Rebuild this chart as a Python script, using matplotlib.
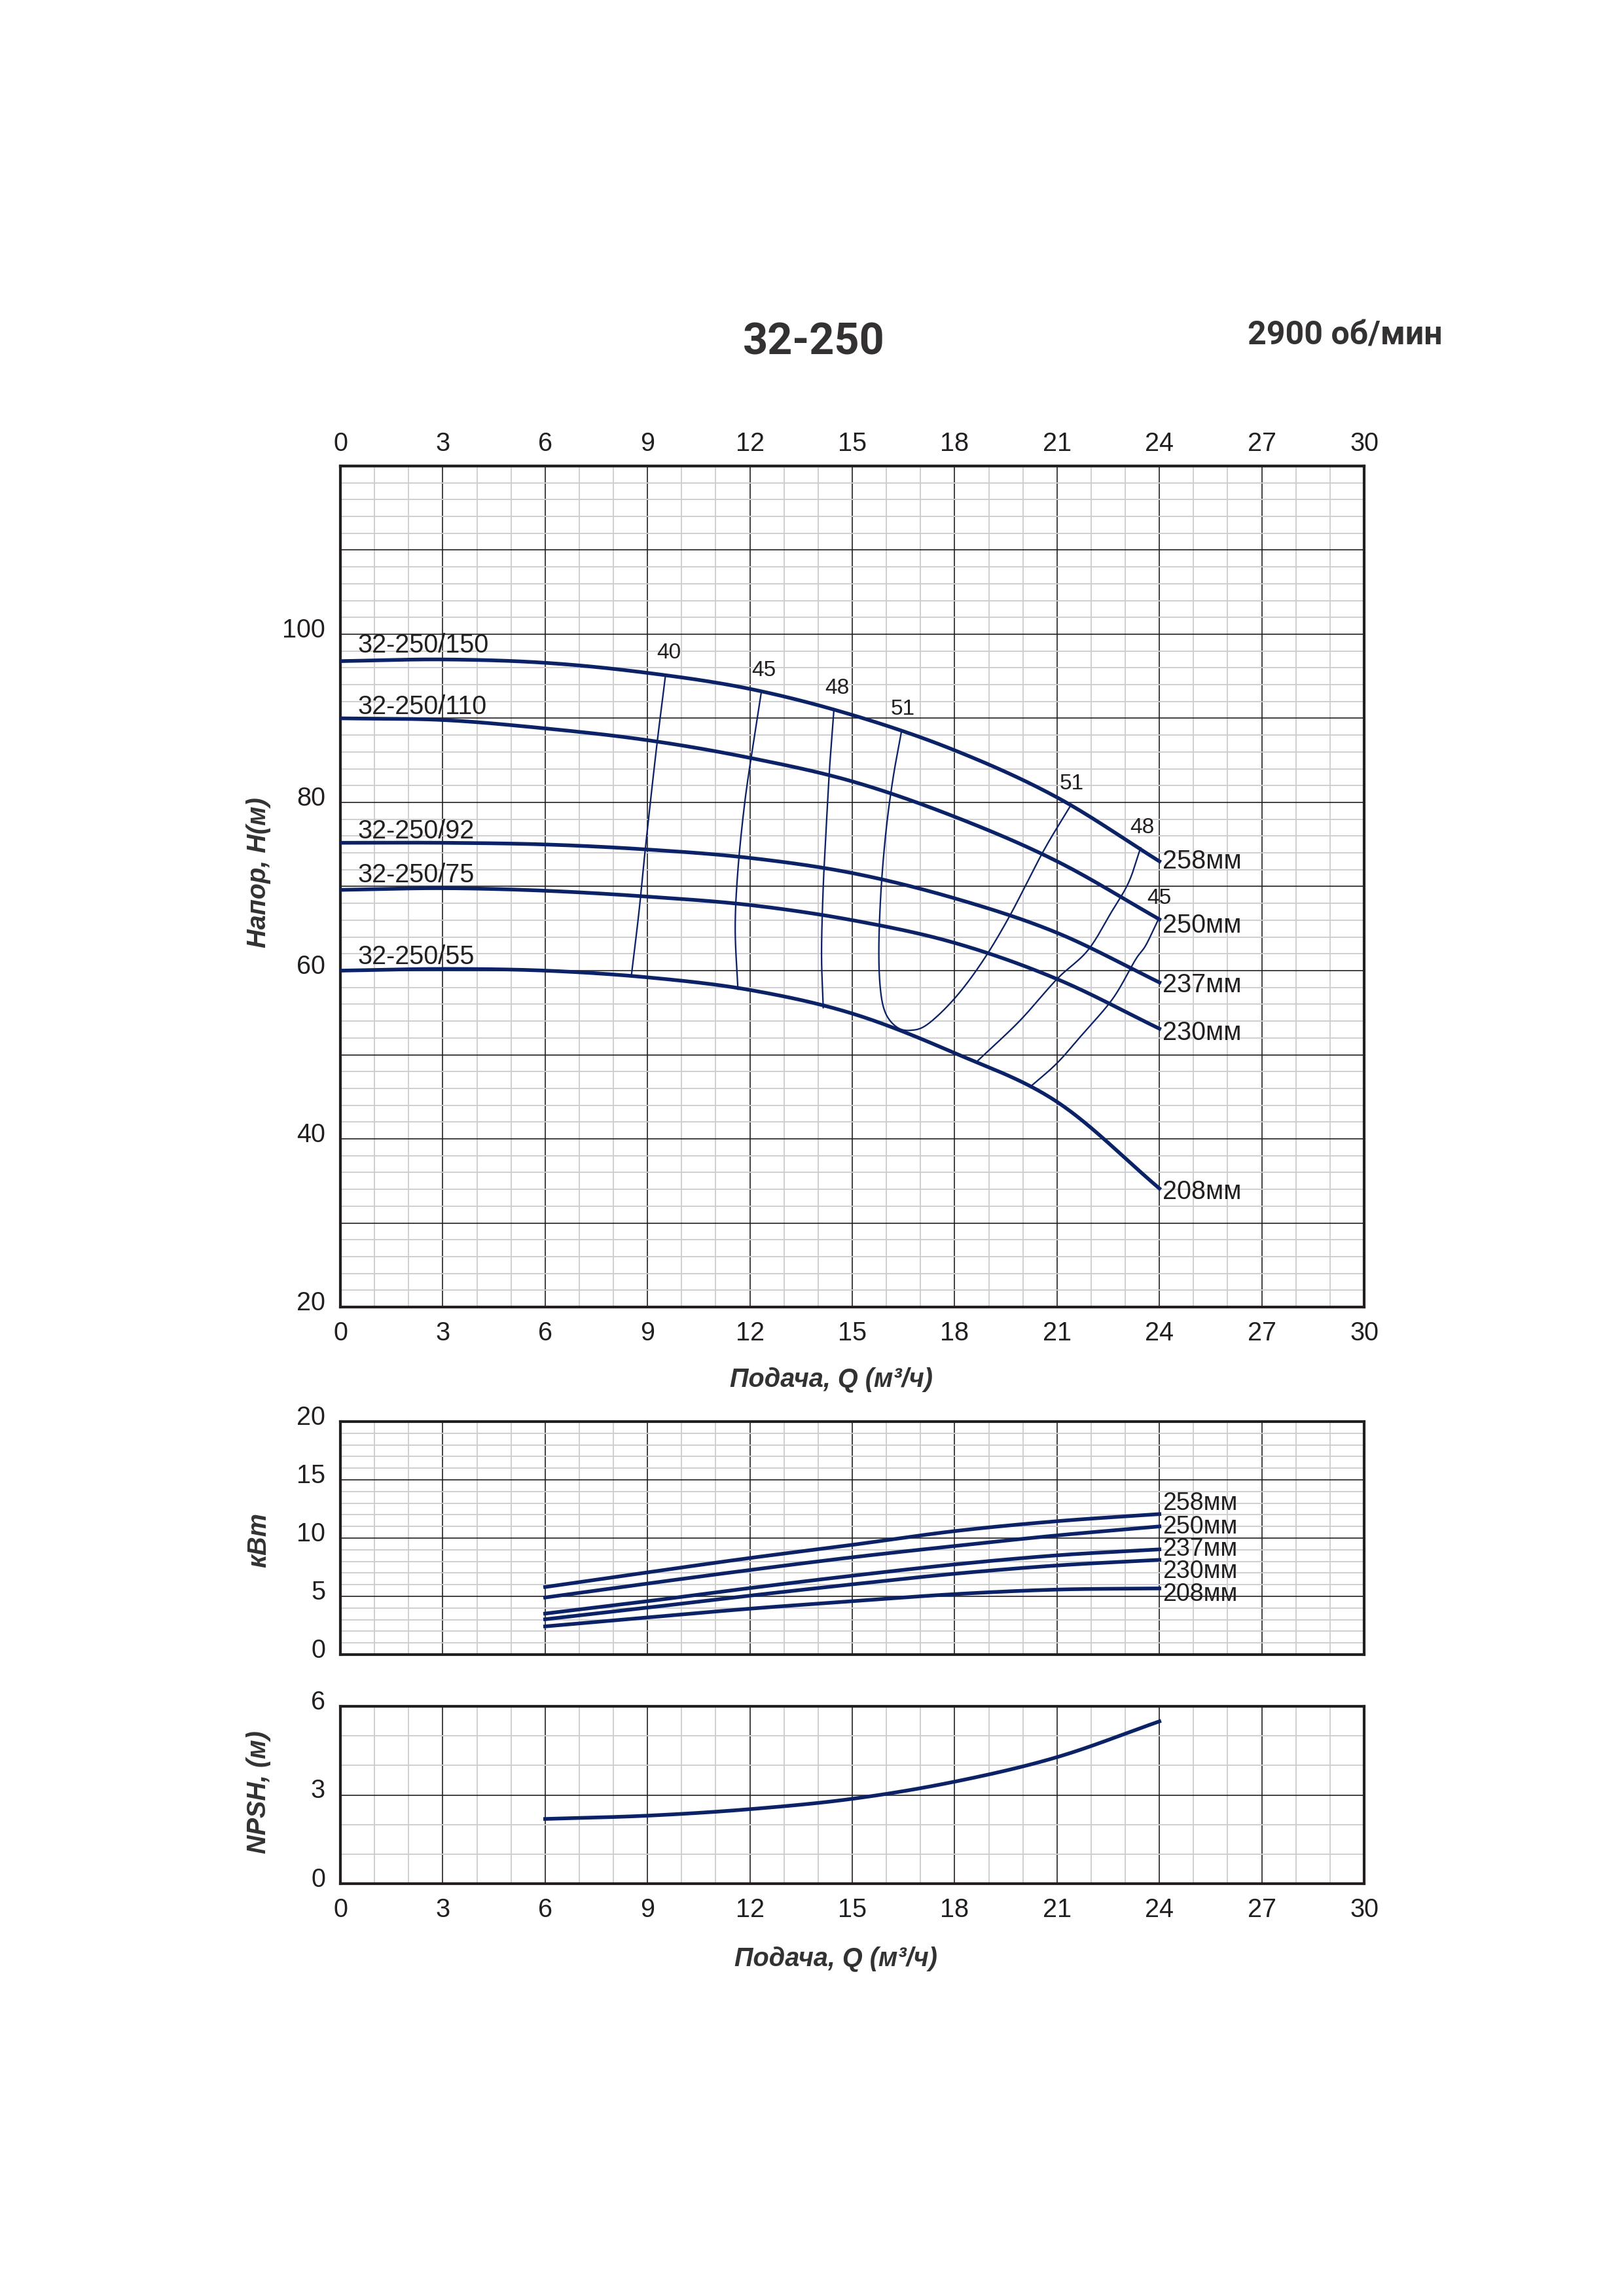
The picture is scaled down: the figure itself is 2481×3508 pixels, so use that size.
import numpy as np
import matplotlib
matplotlib.use("Agg")
import matplotlib.pyplot as plt
from matplotlib.ticker import MultipleLocator
from matplotlib.transforms import ScaledTranslation

# ---------------- data ----------------
Q_pts = [0, 3, 6, 9, 12, 15, 18, 21, 24]
H_258 = [96.8, 97.0, 96.6, 95.4, 93.5, 90.4, 86.2, 80.6, 73.0]
H_250 = [90.0, 89.8, 88.8, 87.4, 85.3, 82.5, 78.3, 73.0, 66.1]
H_237 = [75.2, 75.2, 75.0, 74.4, 73.4, 71.6, 68.6, 64.5, 58.6]
H_230 = [69.6, 69.8, 69.5, 68.8, 67.8, 66.0, 63.3, 59.0, 53.1]
H_208 = [60.0, 60.2, 60.0, 59.2, 57.7, 54.9, 50.2, 44.4, 34.1]
head_curves = [H_258, H_250, H_237, H_230, H_208]
model_names = ["32-250/150", "32-250/110", "32-250/92", "32-250/75", "32-250/55"]
model_label_H = [98.7, 91.4, 76.6, 71.4, 61.6]
diam_labels = ["258мм", "250мм", "237мм", "230мм", "208мм"]
diam_label_H = [73.0, 65.4, 58.3, 52.6, 33.7]

# efficiency iso-lines (Q, H)
eff40_Q = [9.52, 9.25, 8.95, 8.75, 8.53]
eff40_H = [94.9, 86.0, 75.0, 67.0, 59.5]
eff45_Q = [12.33, 12.1, 11.85, 11.65, 11.57, 11.65]
eff45_H = [93.0, 87.0, 80.0, 72.0, 65.0, 57.8]
eff48_Q = [14.46, 14.35, 14.25, 14.15, 14.1, 14.15]
eff48_H = [90.9, 85.0, 78.0, 70.0, 62.0, 55.6]
eff51_Q = [16.44, 16.2, 16.0, 15.85, 15.78, 15.82, 15.97, 16.3, 16.7, 17.2, 18.0, 18.8, 19.6, 20.6, 21.38]
eff51_H = [88.4, 83.0, 77.0, 70.0, 63.0, 58.0, 55.0, 53.3, 52.9, 53.6, 56.7, 61.0, 66.4, 74.2, 79.5]
eff48r_Q = [23.45, 23.1, 22.6, 21.9, 21.0, 19.9, 18.68]
eff48r_H = [74.6, 70.5, 67.0, 62.4, 59.0, 54.0, 49.3]
eff45r_Q = [23.96, 23.6, 23.3, 22.64, 21.76, 21.0, 20.22]
eff45r_H = [66.0, 63.0, 61.3, 56.7, 52.5, 49.0, 46.2]
eff_lines = [(eff40_Q, eff40_H), (eff45_Q, eff45_H), (eff48_Q, eff48_H),
             (eff51_Q, eff51_H), (eff48r_Q, eff48r_H), (eff45r_Q, eff45r_H)]
eff_texts = ["40", "45", "48", "51", "51", "48", "45"]
eff_text_Q = [9.62, 12.4, 14.55, 16.48, 21.43, 23.5, 24.0]
eff_text_H = [97.75, 95.7, 93.6, 91.1, 82.2, 77.0, 68.6]

Q_p = [6, 9, 12, 15, 18, 21, 24]
P_258 = [5.8, 7.06, 8.29, 9.42, 10.6, 11.45, 12.06]
P_250 = [4.9, 6.1, 7.26, 8.35, 9.32, 10.23, 11.0]
P_237 = [3.52, 4.58, 5.71, 6.77, 7.74, 8.52, 9.03]
P_230 = [3.03, 4.03, 5.06, 6.03, 6.94, 7.65, 8.13]
P_208 = [2.42, 3.19, 3.94, 4.58, 5.19, 5.58, 5.68]
power_curves = [P_258, P_250, P_237, P_230, P_208]
power_label_P = [12.97, 10.94, 9.03, 7.16, 5.16]

NPSH = [2.19, 2.30, 2.52, 2.87, 3.45, 4.28, 5.49]

x_ticks = list(range(0, 31, 3))

# ---------------- style ----------------
NAVY = "#0c2266"
TXT = "#231f20"
MINOR = "#cdcdd1"
SANS = ["Liberation Sans", "DejaVu Sans"]
plt.rcParams["font.family"] = SANS

W, Hpx = 2481, 3508


def smooth(xs, ys, n=30):
    """Catmull-Rom curve through the given points (for drawing only)."""
    P = np.column_stack([xs, ys]).astype(float)
    P = np.vstack([2 * P[0] - P[1], P, 2 * P[-1] - P[-2]])
    out = []
    t = np.linspace(0, 1, n, endpoint=False)[:, None]
    for i in range(1, len(P) - 2):
        p0, p1, p2, p3 = P[i - 1], P[i], P[i + 1], P[i + 2]
        seg = 0.5 * ((2 * p1) + (-p0 + p2) * t + (2 * p0 - 5 * p1 + 4 * p2 - p3) * t ** 2
                     + (-p0 + 3 * p1 - 3 * p2 + p3) * t ** 3)
        out.append(seg)
    out.append(P[-2][None, :])
    out = np.vstack(out)
    return out[:, 0], out[:, 1]


def axes_px(fig, left, top, right, bottom):
    return fig.add_axes([left / W, 1 - bottom / Hpx, (right - left) / W, (bottom - top) / Hpx])


def style_axes(fig, ax, ymin, ymax, ymaj, ymin_step, ylabels):
    ax.set_xlim(0, 30)
    ax.set_ylim(ymin, ymax)
    ax.xaxis.set_major_locator(MultipleLocator(3))
    ax.xaxis.set_minor_locator(MultipleLocator(1))
    ax.yaxis.set_minor_locator(MultipleLocator(ymin_step))
    ax.grid(which="minor", color=MINOR, linewidth=0.45, zorder=0)
    ax.grid(which="major", color=TXT, linewidth=0.4, zorder=1)
    ax.set_axisbelow(True)
    for s in ax.spines.values():
        s.set_linewidth(1.0)
        s.set_color(TXT)
    ax.tick_params(which="both", length=0, labelsize=9.5, colors=TXT)
    ax.tick_params(axis="y", pad=5.5)
    ax.tick_params(axis="x", pad=5)
    ticks = np.arange(ymin, ymax + 0.001, ymaj)
    ax.set_yticks(ticks)
    ax.set_yticklabels([(f"{int(t)}" if int(t) in ylabels else "") for t in ticks])
    off = ScaledTranslation(0, 2.5 / 72, fig.dpi_scale_trans)
    for lbl in ax.get_yticklabels():
        lbl.set_transform(lbl.get_transform() + off)


fig = plt.figure(figsize=(W / 300, Hpx / 300), dpi=300)
fig.patch.set_facecolor("white")

L, R = 520, 2084
ax1 = axes_px(fig, L, 712, R, 1997)
ax2 = axes_px(fig, L, 2172, R, 2528)
ax3 = axes_px(fig, L, 2607, R, 2878)

# ---- head chart ----
style_axes(fig, ax1, 20, 120, 10, 2, [20, 40, 60, 80, 100])
ax1.set_xticks(x_ticks)
top = ax1.secondary_xaxis("top")
top.set_xticks(x_ticks)
top.tick_params(length=0, pad=3.5, labelsize=9.5, colors=TXT)
top.spines["top"].set_linewidth(1.0)
top.spines["top"].set_color(TXT)
for H in head_curves:
    xs, ys = smooth(Q_pts, H)
    ax1.plot(xs, ys, color=NAVY, lw=1.35, zorder=4)
for (eq, eh) in eff_lines:
    xs, ys = smooth(eq, eh)
    ax1.plot(xs, ys, color=NAVY, lw=0.55, zorder=3)
for name, h in zip(model_names, model_label_H):
    ax1.text(0.5, h, name, fontsize=9.5, color=TXT, ha="left", va="center", zorder=5)
for lab, h in zip(diam_labels, diam_label_H):
    ax1.text(24.1, h, lab, fontsize=9.5, color=TXT, ha="left", va="center", zorder=5)
for t, q, h in zip(eff_texts, eff_text_Q, eff_text_H):
    ax1.text(q, h, t, fontsize=8, color=TXT, ha="center", va="center", zorder=5)

# ---- power chart ----
style_axes(fig, ax2, 0, 20, 5, 1, [0, 5, 10, 15, 20])
ax2.set_xticks(x_ticks)
ax2.tick_params(axis="x", labelbottom=False)
for P in power_curves:
    xs, ys = smooth(Q_p, P)
    ax2.plot(xs, ys, color=NAVY, lw=1.35, zorder=4)
for lab, p in zip(diam_labels, power_label_P):
    ax2.text(24.1, p, lab, fontsize=9, color=TXT, ha="left", va="center", zorder=5)

# ---- NPSH chart ----
style_axes(fig, ax3, 0, 6, 3, 1, [0, 3, 6])
ax3.set_xticks(x_ticks)
xs, ys = smooth(Q_p, NPSH)
ax3.plot(xs, ys, color=NAVY, lw=1.35, zorder=4)

# ---- texts ----
fig.text(1243 / W, 1 - 524 / Hpx, "32-250", fontsize=16, fontweight="bold", color="#333132",
         ha="center", va="center", family=["Roboto", "DejaVu Sans"])
fig.text(2055 / W, 1 - 513 / Hpx, "2900 об/мин", fontsize=12, fontweight="bold", color="#333132",
         ha="center", va="center", family=["Roboto", "DejaVu Sans"])
lab_kw = dict(fontsize=9.5, fontweight="bold", fontstyle="italic", color="#333132",
              ha="center", va="center")
fig.text(1270 / W, 1 - 2108 / Hpx, "Подача, Q (м³/ч)", **lab_kw)
fig.text(1277 / W, 1 - 2993 / Hpx, "Подача, Q (м³/ч)", **lab_kw)
fig.text(395 / W, 1 - 1333 / Hpx, "Напор, H(м)", rotation=90, **lab_kw)
fig.text(395 / W, 1 - 2353 / Hpx, "кВт", rotation=90, **lab_kw)
fig.text(395 / W, 1 - 2738 / Hpx, "NPSH, (м)", rotation=90, **lab_kw)

fig.savefig("out.png", dpi=300, facecolor="white")
